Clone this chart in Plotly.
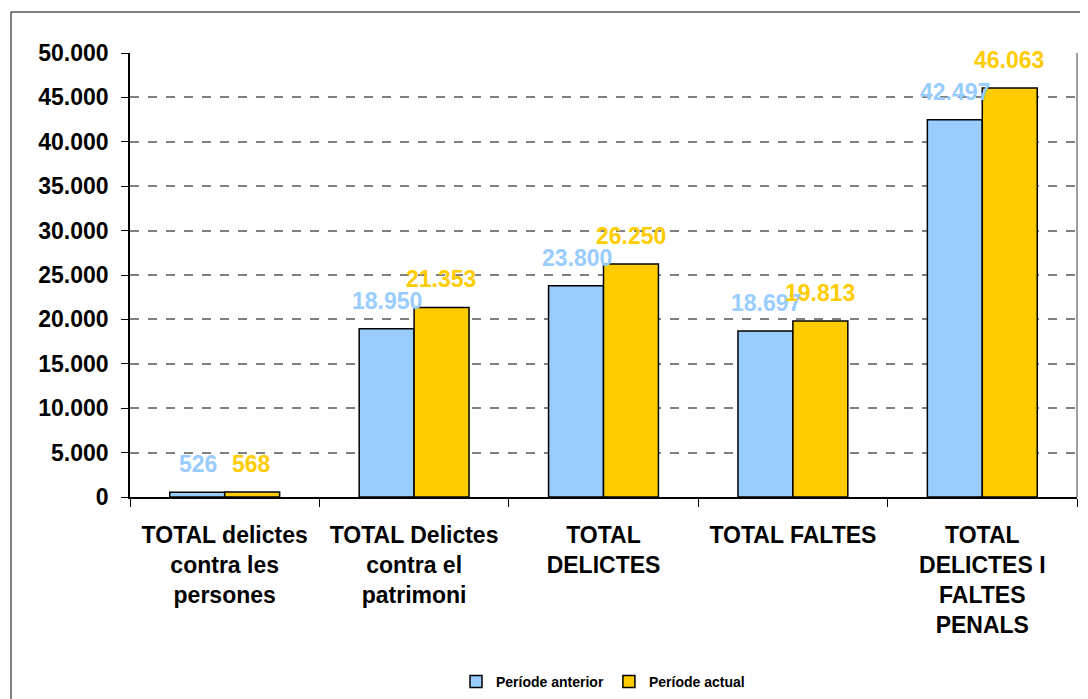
import plotly.graph_objects as go

categories = ["TOTAL delictes<br>contra les<br>persones",
              "TOTAL Delictes<br>contra el<br>patrimoni",
              "TOTAL<br>DELICTES",
              "TOTAL FALTES",
              "TOTAL<br>DELICTES I<br>FALTES<br>PENALS"]
anterior = [526, 18950, 23800, 18697, 42497]
actual = [568, 21353, 26250, 19813, 46063]
series_names = ["Període anterior", "Període actual"]
y_ticks = [0, 5000, 10000, 15000, 20000, 25000, 30000, 35000, 40000, 45000, 50000]

BLUE = "#99CCFF"
YELLOW = "#FFCC00"
FONT = "Arial, Liberation Sans, sans-serif"

fig = go.Figure()
fig.add_trace(go.Bar(x=categories, y=anterior, name=series_names[0],
                     marker=dict(color=BLUE, line=dict(color="black", width=1.5))))
fig.add_trace(go.Bar(x=categories, y=actual, name=series_names[1],
                     marker=dict(color=YELLOW, line=dict(color="black", width=1.5))))

def fmt(v):
    return f"{v:,}".replace(",", ".")

for i, c in enumerate(categories):
    fig.add_annotation(x=c, y=anterior[i], text=fmt(anterior[i]), showarrow=False,
                       xshift=-27, yanchor="bottom", yshift=13,
                       font=dict(family=FONT, size=23, color=BLUE, weight="bold"))
    fig.add_annotation(x=c, y=actual[i], text=fmt(actual[i]), showarrow=False,
                       xshift=27, yanchor="bottom", yshift=13,
                       font=dict(family=FONT, size=23, color=YELLOW, weight="bold"))

# page has an 8px body margin: figure is drawn at offset (8, 8)
W, H = 1080, 691
L, R, T, B = 122, 11, 45, 202
pw, ph = W - L - R, H - T - B

# outer chart border
fig.add_shape(type="rect", xref="paper", yref="paper",
              x0=(3 - L) / pw, x1=(1100 - L) / pw,
              y0=(H - B - 712) / ph, y1=(H - B - 4) / ph,
              line=dict(color="black", width=1), layer="below")
# plot-area right border
fig.add_shape(type="line", xref="paper", yref="paper", x0=1, x1=1, y0=0, y1=1,
              line=dict(color="#808080", width=1.5))

fig.update_layout(
    width=W, height=H,
    margin=dict(l=L, r=R, t=T, b=B, autoexpand=False),
    paper_bgcolor="white", plot_bgcolor="white",
    barmode="group", bargap=0.42, bargroupgap=0,
    separators=",.",
    font=dict(family=FONT, color="black"),
    showlegend=True,
    legend=dict(orientation="h", x=(595 - L) / pw, xanchor="center",
                y=(H - B - 690) / ph, yanchor="bottom",
                font=dict(family=FONT, size=14, color="black", weight="bold"),
                itemwidth=30, tracegroupgap=0),
    xaxis=dict(showline=True, linecolor="black", linewidth=1.5, automargin=False,
               ticks="outside", ticklen=8, tickcolor="black", tickson="boundaries",
               ticklabelstandoff=17,
               tickfont=dict(family=FONT, size=23, color="black", weight="bold"),
               showgrid=False),
    yaxis=dict(range=[0, 50000], tickvals=y_ticks, tickformat=",d", automargin=False,
               showline=True, linecolor="black", linewidth=1.5,
               ticks="outside", ticklen=7, tickcolor="black",
               ticklabelstandoff=8,
               tickfont=dict(family=FONT, size=23, color="black", weight="bold"),
               showgrid=True, gridcolor="#808080", griddash="dash", gridwidth=1.5,
               zeroline=False),
)

fig.write_html("out.html")
